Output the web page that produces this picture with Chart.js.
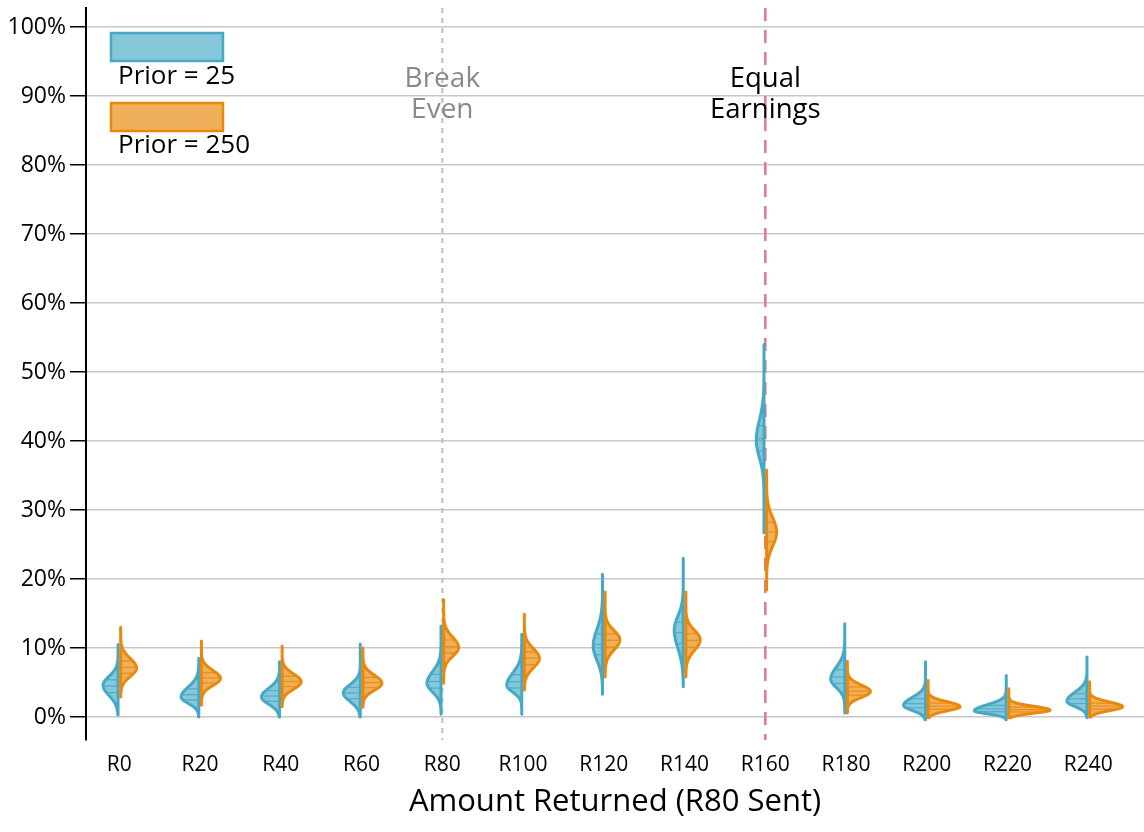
<!DOCTYPE html>
<html lang="en">
<head>
  <meta charset="UTF-8" />
  <title>Amount Returned</title>
  <script src="https://cdn.jsdelivr.net/npm/chart.js"></script>
  <style>
    body { margin: 0; background: #fff; }
    .wrap { width: 1144px; height: 832px; position: relative; }
  </style>
</head>
<body>
  <div class="wrap">
    <canvas id="violinChart"></canvas>
  </div>

  <script>
const categories = ['R0', 'R20', 'R40', 'R60', 'R80', 'R100', 'R120', 'R140', 'R160', 'R180', 'R200', 'R220', 'R240'];
const yTicks = [0, 10, 20, 30, 40, 50, 60, 70, 80, 90, 100];

// Prior = 25 (blue, left halves), values in %
const lowMin    = [0.3, 0, 0, 0, 0.4, 0.4, 3.3, 4.4, 26.7, 0.6, -0.4, -0.4, -0.1];
const lowMax    = [10.5, 8.5, 8, 10.6, 13.2, 12, 20.7, 23, 54, 13.5, 8, 6, 8.7];
const lowMode   = [4.6, 2.9, 2.9, 3.5, 4.9, 4.6, 10.3, 12.6, 40.1, 5.5, 1.7, 0.9, 2.3];
const lowSdDown = [1.48, 0.91, 1.04, 1.24, 1.28, 0.99, 2.06, 2.6, 2.5, 1.23, 0.75, 0.43, 0.78];
const lowSdUp   = [1.29, 1.44, 1.26, 1.2, 1.68, 1.78, 2.4, 2.0, 2.9, 1.73, 1.14, 0.87, 1.29];

// Prior = 250 (orange, right halves)
const highMin    = [2.9, 1.7, 1.5, 1.4, 4.9, 3.9, 5.8, 5.8, 18.4, 0.6, -0.1, -0.1, 0];
const highMax    = [13, 11, 10.3, 10, 17, 14.9, 18.1, 18.1, 35.8, 8.1, 5.3, 4.1, 5.1];
const highMode   = [7.1, 5.6, 5.1, 4.9, 10.1, 8.5, 11.2, 11.2, 26.8, 3.7, 1.5, 1.0, 1.5];
const highSdDown = [1.22, 1.03, 1.05, 1.02, 1.3, 1.37, 1.48, 1.53, 2.05, 0.86, 0.6, 0.45, 0.58];
const highSdUp   = [1.38, 1.15, 1.13, 1.16, 1.47, 1.4, 1.34, 1.37, 2.1, 0.94, 0.7, 0.56, 0.68];

const BLUE = '#45a9c5';
const BLUE_FILL = 'rgba(69,169,197,0.65)';
const BLUE_INNER = 'rgba(69,169,197,0.8)';
const ORANGE = '#e8890e';
const ORANGE_FILL = 'rgba(232,137,14,0.68)';
const ORANGE_INNER = 'rgba(232,137,14,0.8)';
const FONT = "'Open Sans', sans-serif";
const DENSITY_SCALE = 0.645; // x units per (1/%) of density

Chart.defaults.font.family = FONT;
Chart.defaults.color = '#000';

function halfViolin(ctx, xs, ys, i, side, min, max, mode, sdLo, sdHi, stroke, fill, inner) {
  const cx = xs.getPixelForValue(i) + side * 1.3;
  const unit = xs.getPixelForValue(i + 1) - xs.getPixelForValue(i);
  const peak = 2 / (Math.sqrt(2 * Math.PI) * (sdLo + sdHi));
  const dens = v => peak * Math.exp(-0.5 * Math.pow((v - mode) / (v < mode ? sdLo : sdHi), 2));
  const N = 300;
  const pts = [];
  for (let k = 0; k <= N; k++) {
    const v = min + (max - min) * k / N;
    pts.push({ v: v, d: dens(v) });
  }
  // cumulative for quartiles
  const cum = [0];
  for (let k = 1; k <= N; k++) {
    cum.push(cum[k - 1] + (pts[k].d + pts[k - 1].d) / 2 * (pts[k].v - pts[k - 1].v));
  }
  const total = cum[N];
  const px = d => cx + side * d * DENSITY_SCALE * unit;

  const outline = () => {
    ctx.beginPath();
    ctx.moveTo(cx, ys.getPixelForValue(min));
    pts.forEach(p => ctx.lineTo(px(p.d), ys.getPixelForValue(p.v)));
    ctx.lineTo(cx, ys.getPixelForValue(max));
    ctx.closePath();
  };

  ctx.save();
  ctx.lineJoin = 'round';
  outline();
  ctx.fillStyle = fill;
  ctx.fill();

  // quartile lines
  ctx.lineWidth = 1.3;
  ctx.strokeStyle = inner;
  [0.25, 0.5, 0.75].forEach(q => {
    let k = 1;
    while (k < N && cum[k] < q * total) k++;
    const f = (q * total - cum[k - 1]) / (cum[k] - cum[k - 1] || 1);
    const v = pts[k - 1].v + f * (pts[k].v - pts[k - 1].v);
    const y = ys.getPixelForValue(v);
    ctx.beginPath();
    ctx.moveTo(cx, y);
    ctx.lineTo(px(dens(v)), y);
    ctx.stroke();
  });

  outline();
  ctx.strokeStyle = stroke;
  ctx.lineWidth = 3;
  ctx.stroke();
  ctx.restore();
}

const violinPlugin = {
  id: 'violins',
  beforeDatasetsDraw(chart) {
    const ctx = chart.ctx;
    const xs = chart.scales.x, ys = chart.scales.y;
    const area = chart.chartArea;
    // reference lines
    ctx.save();
    ctx.lineWidth = 2;
    ctx.strokeStyle = '#bdbdbd';
    ctx.setLineDash([5, 5]);
    ctx.beginPath();
    ctx.moveTo(xs.getPixelForValue(4), area.top);
    ctx.lineTo(xs.getPixelForValue(4), area.bottom);
    ctx.stroke();
    ctx.lineWidth = 2.5;
    ctx.strokeStyle = '#e0788f';
    ctx.setLineDash([13, 9]);
    ctx.beginPath();
    ctx.moveTo(xs.getPixelForValue(8), area.top);
    ctx.lineTo(xs.getPixelForValue(8), area.bottom);
    ctx.stroke();
    ctx.restore();

    categories.forEach((c, i) => {
      halfViolin(ctx, xs, ys, i, -1, lowMin[i], lowMax[i], lowMode[i], lowSdDown[i], lowSdUp[i], BLUE, BLUE_FILL, BLUE_INNER);
      halfViolin(ctx, xs, ys, i, 1, highMin[i], highMax[i], highMode[i], highSdDown[i], highSdUp[i], ORANGE, ORANGE_FILL, ORANGE_INNER);
    });
  },
  afterDraw(chart) {
    const ctx = chart.ctx;
    const xs = chart.scales.x, ys = chart.scales.y;
    const area = chart.chartArea;
    ctx.save();
    ctx.textAlign = 'center';
    ctx.textBaseline = 'middle';
    ctx.font = '28px ' + FONT;
    ctx.fillStyle = '#8a8a8a';
    ctx.fillText('Break', xs.getPixelForValue(4), ys.getPixelForValue(92.5));
    ctx.fillText('Even', xs.getPixelForValue(4), ys.getPixelForValue(88));
    ctx.fillStyle = '#000';
    ctx.font = '27.5px ' + FONT;
    ctx.fillText('Equal', xs.getPixelForValue(8), ys.getPixelForValue(92.5));
    ctx.fillText('Earnings', xs.getPixelForValue(8), ys.getPixelForValue(88));

    // legend
    const lx = area.left + 25, ly = area.top + 25;
    ctx.lineWidth = 2.5;
    ctx.fillStyle = BLUE_FILL;
    ctx.strokeStyle = BLUE;
    ctx.fillRect(lx, ly, 112, 28);
    ctx.strokeRect(lx, ly, 112, 28);
    ctx.fillStyle = ORANGE_FILL;
    ctx.strokeStyle = ORANGE;
    ctx.fillRect(lx, ly + 70, 112, 28);
    ctx.strokeRect(lx, ly + 70, 112, 28);
    ctx.textAlign = 'left';
    ctx.fillStyle = '#000';
    ctx.font = '26px ' + FONT;
    ctx.fillText('Prior = 25', lx + 7, ly + 44);
    ctx.fillText('Prior = 250', lx + 7, ly + 113);
    ctx.restore();
  }
};

const ctx = document.getElementById('violinChart').getContext('2d');
new Chart(ctx, {
  type: 'scatter',
  data: {
    datasets: [
      { label: 'Prior = 25', data: lowMode.map((v, i) => ({ x: i, y: v })), pointRadius: 0, borderColor: BLUE, backgroundColor: BLUE_FILL },
      { label: 'Prior = 250', data: highMode.map((v, i) => ({ x: i, y: v })), pointRadius: 0, borderColor: ORANGE, backgroundColor: ORANGE_FILL }
    ]
  },
  options: {
    responsive: true,
    maintainAspectRatio: false,
    animation: false,
    layout: { padding: { top: 8, right: 0, left: 0, bottom: 0 } },
    plugins: {
      legend: { display: false },
      tooltip: { enabled: false }
    },
    scales: {
      x: {
        type: 'linear',
        min: -0.413,
        max: 12.69,
        afterBuildTicks: s => { s.ticks = categories.map((c, i) => ({ value: i })); },
        afterFit: s => { s.height = 92; s.paddingLeft = 0; s.paddingRight = 0; },
        grid: { display: false, drawTicks: false },
        border: { display: false },
        ticks: {
          autoSkip: false,
          maxRotation: 0,
          padding: 12,
          font: { size: 21 },
          color: '#000',
          callback: v => categories[v]
        },
        title: {
          display: true,
          text: 'Amount Returned (R80 Sent)',
          font: { size: 31 },
          color: '#000',
          padding: { top: 0, bottom: 11 }
        }
      },
      y: {
        min: -3.33,
        max: 102.75,
        afterBuildTicks: s => { s.ticks = yTicks.map(v => ({ value: v })); },
        afterFit: s => { s.width = 86; s.paddingTop = 0; s.paddingBottom = 0; },
        grid: { color: '#c8c8c8', lineWidth: 1.5, tickColor: '#000', tickLength: 16, tickWidth: 1.5 },
        border: { display: true, color: '#000', width: 2 },
        ticks: {
          padding: 4,
          font: { size: 23 },
          color: '#000',
          callback: v => v + '%'
        }
      }
    }
  },
  plugins: [violinPlugin]
});
  </script>
</body>
</html>
